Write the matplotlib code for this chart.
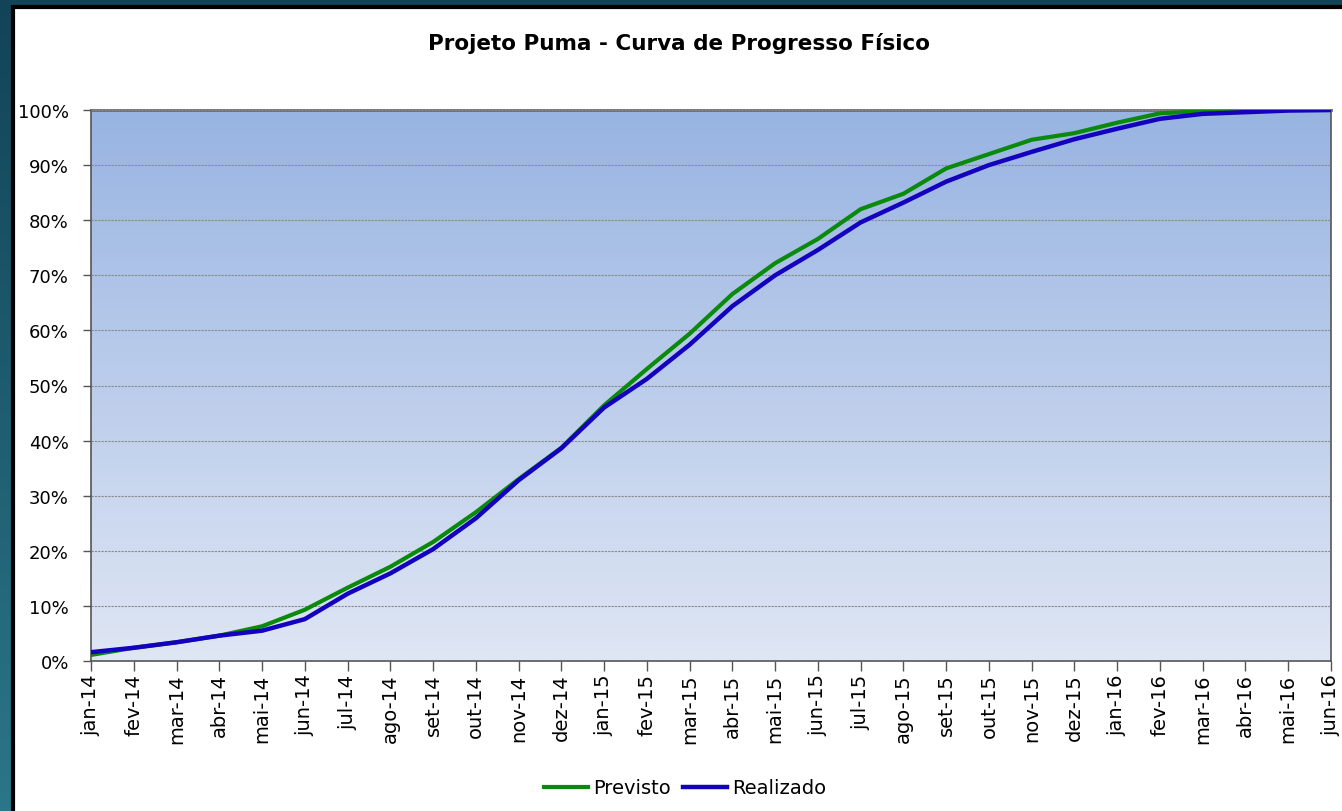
import numpy as np
import matplotlib
matplotlib.use('Agg')
import matplotlib.pyplot as plt
from matplotlib.patches import Rectangle
from matplotlib.ticker import FuncFormatter

# month labels (jan-14 .. jun-16)
meses = ['jan-14', 'fev-14', 'mar-14', 'abr-14', 'mai-14', 'jun-14', 'jul-14', 'ago-14',
         'set-14', 'out-14', 'nov-14', 'dez-14', 'jan-15', 'fev-15', 'mar-15', 'abr-15',
         'mai-15', 'jun-15', 'jul-15', 'ago-15', 'set-15', 'out-15', 'nov-15', 'dez-15',
         'jan-16', 'fev-16', 'mar-16', 'abr-16', 'mai-16', 'jun-16']

# physical progress, % accumulated
previsto = [1.1, 2.4, 3.4, 4.6, 6.3, 9.3, 13.3, 17.1, 21.6, 27.0,
            33.0, 38.7, 46.4, 53.0, 59.4, 66.6, 72.2, 76.6, 82.0, 84.8,
            89.4, 92.0, 94.6, 95.8, 97.7, 99.4, 99.8, 100.0, 100.0, 100.0]
realizado = [1.6, 2.4, 3.4, 4.6, 5.5, 7.6, 12.2, 15.9, 20.3, 25.9,
             32.8, 38.6, 46.0, 51.2, 57.4, 64.4, 70.0, 74.6, 79.6, 83.2,
             87.0, 90.0, 92.4, 94.7, 96.6, 98.4, 99.3, 99.6, 99.9, 100.0]

W, H = 1342, 812
fig = plt.figure(figsize=(W / 100, H / 100), dpi=100)

# dark slide background behind the chart panel
bg = fig.add_axes([0, 0, 1, 1], zorder=-10)
grad = np.linspace(0, 1, 256).reshape(-1, 1)
bg.imshow(grad, aspect='auto', extent=[0, 1, 0, 1], origin='lower',
          cmap=matplotlib.colors.LinearSegmentedColormap.from_list('bgc', ['#2b7689', '#134356']))
bg.set_xlim(0, 1)
bg.set_ylim(0, 1)
bg.axis('off')
# white chart panel with black frame
bg.add_patch(Rectangle((13 / W, -0.05), 1.1, 1 - 8 / H + 0.05, facecolor='white',
                       edgecolor='black', linewidth=3, transform=bg.transAxes))

ax = fig.add_axes([91 / W, 1 - 662 / H, (1331 - 91) / W, (662 - 111) / H])
x = np.arange(len(meses))

# plot area gradient, light at bottom, darker blue at top
cm = matplotlib.colors.LinearSegmentedColormap.from_list('pa', ['#dfe6f4', '#98b4e2'])
ax.imshow(grad, aspect='auto', extent=[0, len(meses) - 1, 0, 1], origin='lower',
          cmap=cm, zorder=0)

ax.plot(x, np.array(previsto) / 100, color='#0a8a0a', lw=3, label='Previsto', zorder=3,
        solid_joinstyle='round')
ax.plot(x, np.array(realizado) / 100, color='#1400bf', lw=3.2, label='Realizado', zorder=4,
        solid_joinstyle='round')

ax.set_xlim(0, len(meses) - 1)
ax.set_ylim(0, 1)
ax.set_yticks(np.arange(0, 1.01, 0.1))
ax.yaxis.set_major_formatter(FuncFormatter(lambda v, p: '{:.0f}%'.format(v * 100)))
ax.set_xticks(x)
ax.set_xticklabels(meses, rotation=90)
ax.grid(axis='y', color='#8a8a8a', linestyle=(0, (2, 1)), linewidth=0.8, zorder=1)
ax.set_axisbelow(False)
for s in ax.spines.values():
    s.set_color('#555555')
    s.set_linewidth(1.2)
ax.spines['top'].set_color('#6a6a6a')
ax.spines['top'].set_linewidth(2)
ax.tick_params(axis='y', length=6, width=1, color='#555555', pad=10, labelsize=13)
ax.tick_params(axis='x', length=7, width=1, color='#555555', pad=2, labelsize=14)

fig.text(0.506, 1 - 44 / H, 'Projeto Puma - Curva de Progresso Físico',
         ha='center', va='center', fontsize=15.5, fontweight='bold')

fig.legend(loc='center', bbox_to_anchor=(685 / W, 1 - 789 / H), ncol=2, frameon=False,
           fontsize=14, handlelength=2.3, handletextpad=0.25, columnspacing=0.6)

fig.savefig('out.png', dpi=100)
